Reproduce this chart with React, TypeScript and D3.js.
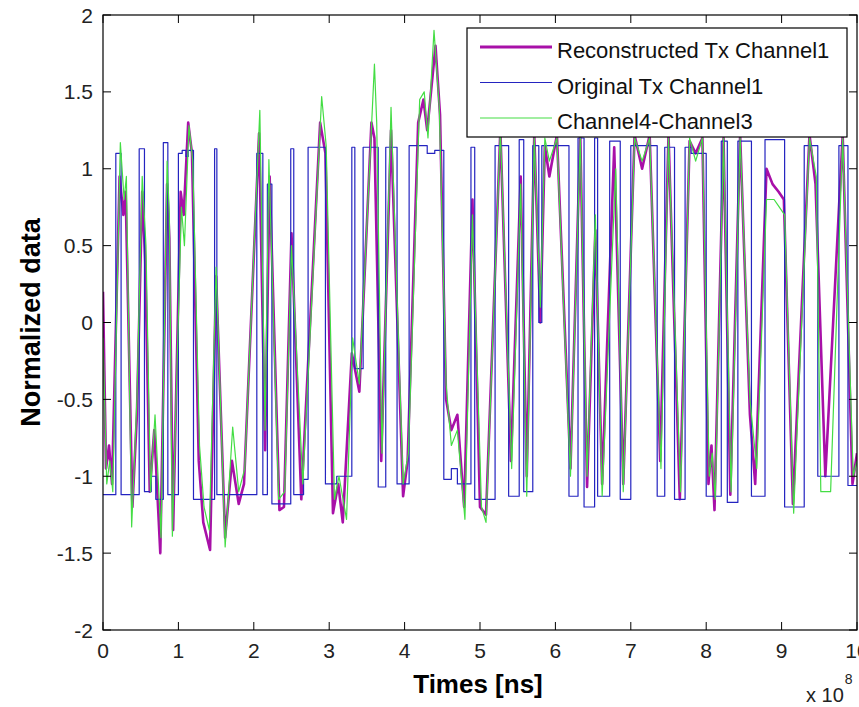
import React from "react";
import * as d3 from "d3";

const width = 859;
const height = 707;
const margin = { left: 103, right: 2, top: 15, bottom: 77 };

const font = "'Liberation Sans', Arial, Helvetica, sans-serif";

// time in units of 1e8 ns, normalized value
const reconstructed: [number, number][] = [
  [0.0, 0.2], [0.04, -0.95], [0.08, -0.8], [0.12, -1.05], [0.22, 0.95], [0.27, 0.7],
  [0.3, 0.85], [0.39, -1.2], [0.45, -0.6], [0.52, 0.85], [0.56, 0.4], [0.62, -1.1],
  [0.68, -0.7], [0.76, -1.5], [0.85, 0.9], [0.88, 0.55], [0.93, -1.35], [1.03, 0.85],
  [1.07, 0.7], [1.13, 1.3], [1.18, 1.1], [1.27, -0.9], [1.33, -1.3], [1.42, -1.48],
  [1.5, 0.3], [1.62, -1.4], [1.71, -0.9], [1.8, -1.18], [1.87, -1.05], [2.07, 1.23],
  [2.15, -0.83], [2.21, 0.95], [2.34, -1.22], [2.4, -1.2], [2.5, 0.58], [2.63, -1.15],
  [2.88, 1.3], [2.95, 1.1], [3.05, -1.24], [3.12, -1.05], [3.18, -1.3], [3.3, -0.2],
  [3.4, -0.45], [3.56, 1.3], [3.6, 1.2], [3.69, -0.9], [3.82, 1.25], [3.98, -1.13],
  [4.04, -0.9], [4.18, 1.3], [4.25, 1.45], [4.3, 1.25], [4.41, 1.8], [4.47, 1.35],
  [4.55, -0.5], [4.62, -0.7], [4.7, -0.6], [4.79, -1.2], [4.9, 0.8], [5.0, -1.2],
  [5.08, -1.25], [5.27, 1.25], [5.41, -0.9], [5.54, 0.95], [5.62, -1.0], [5.72, 1.22],
  [5.8, 0.0], [5.86, 1.15], [5.92, 0.95], [6.02, 1.22], [6.2, -0.95], [6.33, 1.22],
  [6.42, -1.07], [6.53, 0.6], [6.62, -1.05], [6.78, 1.14], [6.9, -1.05], [7.05, 1.22],
  [7.15, 1.0], [7.25, 1.22], [7.39, -0.9], [7.5, 1.22], [7.65, -1.15], [7.78, 1.18],
  [7.86, 1.1], [7.95, 1.2], [8.03, -1.05], [8.07, -0.8], [8.11, -1.22], [8.23, 1.2],
  [8.32, -1.12], [8.45, 1.22], [8.58, -0.6], [8.65, -1.05], [8.8, 1.0], [8.88, 0.9],
  [8.96, 0.85], [9.03, 0.8], [9.15, -1.18], [9.37, 1.22], [9.45, 0.9], [9.58, -1.0],
  [9.81, 1.22], [9.94, -1.05], [10.0, -0.85],
];

const original: [number, number][] = [
  [0.0, -1.12], [0.17, 1.1], [0.24, -1.12], [0.48, 1.13], [0.55, -1.1], [0.64, -1.0],
  [0.7, -1.15], [0.8, 1.17], [0.86, -1.12], [1.0, 1.1], [1.05, 1.12], [1.1, 1.08],
  [1.13, 1.12], [1.2, -1.15], [1.48, 1.13], [1.51, -1.12], [2.04, 1.1], [2.12, -1.12],
  [2.18, 0.9], [2.24, -1.18], [2.49, 1.13], [2.53, -1.12], [2.66, -1.02], [2.72, 1.14],
  [2.95, -1.05], [3.1, -1.0], [3.3, 1.14], [3.34, -0.3], [3.45, 1.14], [3.65, -1.07],
  [3.75, 1.14], [3.9, -1.05], [4.06, 1.15], [4.3, 1.1], [4.4, 1.12], [4.52, -1.02],
  [4.62, -0.95], [4.7, -1.05], [4.88, 1.14], [4.93, -1.15], [5.2, 1.15], [5.38, -1.13],
  [5.52, 1.19], [5.58, -1.1], [5.7, 1.15], [5.78, 0.0], [5.82, 1.15], [6.18, -1.13],
  [6.3, 1.2], [6.38, -1.2], [6.52, 1.2], [6.56, -1.13], [6.72, 1.18], [6.86, -1.15],
  [7.0, 1.15], [7.35, -1.13], [7.45, 1.14], [7.58, -1.15], [7.72, 1.14], [7.8, 1.1],
  [8.0, -1.13], [8.2, 1.18], [8.28, -1.17], [8.42, 1.18], [8.6, -1.13], [8.78, 1.19],
  [9.04, -1.2], [9.3, 1.15], [9.48, -1.0], [9.76, 1.15], [9.88, -1.06], [10.0, -1.06],
];

const difference: [number, number][] = [
  [0.0, -0.1], [0.05, -1.05], [0.09, -0.9], [0.13, -1.1], [0.23, 1.17], [0.28, 0.8],
  [0.31, 0.95], [0.38, -1.33], [0.45, -0.5], [0.52, 0.95], [0.57, 0.5], [0.63, -1.1],
  [0.69, -0.6], [0.77, -1.4], [0.85, 1.05], [0.88, 0.7], [0.92, -1.39], [1.04, 0.75],
  [1.08, 0.5], [1.14, 1.28], [1.19, 1.05], [1.28, -0.8], [1.34, -1.2], [1.41, -1.35],
  [1.5, 0.36], [1.62, -1.46], [1.72, -0.68], [1.8, -1.1], [1.88, -0.95], [2.08, 1.38],
  [2.15, -0.7], [2.2, 1.06], [2.33, -1.15], [2.41, -1.1], [2.5, 0.5], [2.65, -1.05],
  [2.9, 1.47], [2.96, 1.15], [3.07, -1.15], [3.13, -1.0], [3.23, -1.28], [3.31, -0.1],
  [3.4, -0.4], [3.6, 1.68], [3.63, 1.3], [3.7, -0.85], [3.82, 1.4], [3.98, -1.05],
  [4.05, -0.85], [4.2, 1.45], [4.26, 1.5], [4.31, 1.2], [4.39, 1.9], [4.46, 1.4],
  [4.55, -0.4], [4.62, -0.8], [4.7, -0.7], [4.8, -1.28], [4.9, 0.7], [5.02, -1.2],
  [5.08, -1.3], [5.27, 1.25], [5.42, -0.95], [5.54, 0.9], [5.62, -1.13], [5.72, 1.2],
  [5.8, 0.1], [5.86, 1.2], [5.92, 1.05], [6.02, 1.2], [6.2, -1.0], [6.33, 1.2],
  [6.42, -1.0], [6.53, 0.7], [6.62, -1.13], [6.8, 1.0], [6.9, -1.1], [7.05, 1.2],
  [7.15, 1.05], [7.25, 1.2], [7.4, -0.95], [7.5, 1.2], [7.66, -1.1], [7.78, 1.2],
  [7.86, 1.05], [7.95, 1.2], [8.04, -1.0], [8.08, -0.85], [8.12, -1.15], [8.23, 1.2],
  [8.33, -1.1], [8.45, 1.2], [8.58, -0.5], [8.67, -0.95], [8.8, 0.8], [8.9, 0.8],
  [8.97, 0.75], [9.04, 0.7], [9.16, -1.24], [9.37, 1.2], [9.46, 0.95], [9.52, -1.1],
  [9.65, -1.1], [9.81, 1.2], [9.95, -1.0], [10.0, -0.9],
];

const xTicks = [0, 1, 2, 3, 4, 5, 6, 7, 8, 9, 10];
const yTicks = [-2, -1.5, -1, -0.5, 0, 0.5, 1, 1.5, 2];

const legendItems = [
  { name: "Reconstructed Tx Channel1", color: "#a810a8", width: 3 },
  { name: "Original Tx Channel1", color: "#2424c0", width: 1.2 },
  { name: "Channel4-Channel3", color: "#44dd44", width: 1.2 },
];

const App = () => {
  const x = d3.scaleLinear().domain([0, 10]).range([margin.left, width - margin.right]);
  const y = d3.scaleLinear().domain([-2, 2]).range([height - margin.bottom, margin.top]);

  const line = d3
    .line<[number, number]>()
    .x(d => x(d[0]))
    .y(d => y(d[1]));
  const stepLine = d3
    .line<[number, number]>()
    .x(d => x(d[0]))
    .y(d => y(d[1]))
    .curve(d3.curveStepAfter);

  const [x0, x1] = x.range();
  const [y0, y1] = [y(2), y(-2)];
  const tick = 8;

  return (
    <svg
      width={width}
      height={height}
      style={{ position: "absolute", left: 0, top: 0, background: "#fff" }}
      fontFamily={font}
    >
      <defs>
        <clipPath id="plot-area">
          <rect x={x0} y={y0} width={x1 - x0} height={y1 - y0} />
        </clipPath>
      </defs>

      <g clipPath="url(#plot-area)" fill="none" strokeLinejoin="round">
        <path d={line(reconstructed) || ""} stroke={legendItems[0].color} strokeWidth={2.6} />
        <path d={stepLine(original) || ""} stroke={legendItems[1].color} strokeWidth={1.2} />
        <path d={line(difference) || ""} stroke={legendItems[2].color} strokeWidth={1.2} />
      </g>

      {/* axes box with inward ticks on all sides */}
      <rect x={x0} y={y0} width={x1 - x0} height={y1 - y0} fill="none" stroke="#000" strokeWidth={1.2} />
      {xTicks.map(t => (
        <g key={"x" + t}>
          <line x1={x(t)} x2={x(t)} y1={y1} y2={y1 - tick} stroke="#000" />
          <line x1={x(t)} x2={x(t)} y1={y0} y2={y0 + tick} stroke="#000" />
          <text x={x(t)} y={658} textAnchor="middle" fontSize={21} fill="#222">
            {t}
          </text>
        </g>
      ))}
      {yTicks.map(t => (
        <g key={"y" + t}>
          <line x1={x0} x2={x0 + tick} y1={y(t)} y2={y(t)} stroke="#000" />
          <line x1={x1} x2={x1 - tick} y1={y(t)} y2={y(t)} stroke="#000" />
          <text x={93} y={y(t)} dy="0.36em" textAnchor="end" fontSize={21} fill="#222">
            {t}
          </text>
        </g>
      ))}

      <text x={478} y={693} textAnchor="middle" fontSize={26} fontWeight="bold" fill="#000">
        Times [ns]
      </text>
      <text
        transform={`translate(40, ${(y0 + y1) / 2}) rotate(-90)`}
        textAnchor="middle"
        fontSize={27}
        fontWeight="bold"
        fill="#000"
      >
        Normalized data
      </text>
      <text x={806} y={702} fontSize={20} fill="#222">
        x 10
        <tspan dx={1} dy={-18} fontSize={14}>
          8
        </tspan>
      </text>

      {/* legend */}
      <g>
        <rect x={467} y={28} width={380} height={109} fill="#fff" stroke="#000" strokeWidth={1.2} />
        {legendItems.map((d, i) => {
          const cy = 47 + i * 35.5;
          return (
            <g key={d.name}>
              <line x1={480} x2={552} y1={cy} y2={cy} stroke={d.color} strokeWidth={d.width} />
              <text x={557} y={cy + 11} fontSize={22} fill="#111">
                {d.name}
              </text>
            </g>
          );
        })}
      </g>
    </svg>
  );
};

export default App;
